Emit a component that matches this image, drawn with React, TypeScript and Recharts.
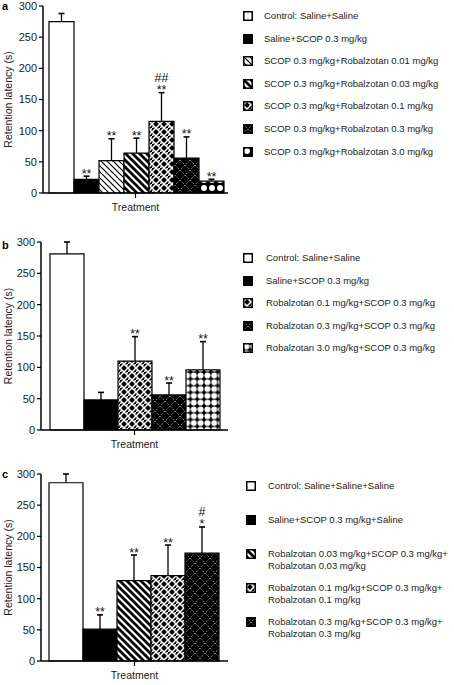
import { BarChart, Bar, XAxis, YAxis, LabelList } from 'recharts'

const FONT = '"Liberation Sans", Arial, Helvetica, sans-serif'

// panel a
const groupsA = [
  'Control: Saline+Saline',
  'Saline+SCOP 0.3 mg/kg',
  'SCOP 0.3 mg/kg+Robalzotan 0.01 mg/kg',
  'SCOP 0.3 mg/kg+Robalzotan 0.03 mg/kg',
  'SCOP 0.3 mg/kg+Robalzotan 0.1 mg/kg',
  'SCOP 0.3 mg/kg+Robalzotan 0.3 mg/kg',
  'SCOP 0.3 mg/kg+Robalzotan 3.0 mg/kg',
]
const meanA = [275, 22, 52, 64, 115, 56, 19]
const semA = [13, 5, 35, 24, 46, 34, 3]
const sigA = ['', '**', '**', '**', '##\n**', '**', '**']

// panel b
const groupsB = [
  'Control: Saline+Saline',
  'Saline+SCOP 0.3 mg/kg',
  'Robalzotan 0.1 mg/kg+SCOP 0.3 mg/kg',
  'Robalzotan 0.3 mg/kg+SCOP 0.3 mg/kg',
  'Robalzotan 3.0 mg/kg+SCOP 0.3 mg/kg',
]
const meanB = [281, 48, 110, 56, 96]
const semB = [19, 12, 39, 19, 45]
const sigB = ['', '', '**', '**', '**']

// panel c
const groupsC = [
  'Control: Saline+Saline+Saline',
  'Saline+SCOP 0.3 mg/kg+Saline',
  'Robalzotan 0.03 mg/kg+SCOP 0.3 mg/kg+\nRobalzotan 0.03 mg/kg',
  'Robalzotan 0.1 mg/kg+SCOP 0.3 mg/kg+\nRobalzotan 0.1 mg/kg',
  'Robalzotan 0.3 mg/kg+SCOP 0.3 mg/kg+\nRobalzotan 0.3 mg/kg',
]
const meanC = [286, 51, 129, 137, 173]
const semC = [14, 23, 41, 49, 42]
const sigC = ['', '**', '**', '**', '#\n*']

const yTicks = [0, 50, 100, 150, 200, 250, 300]
const xLabel = 'Treatment'

const fillsA = ['#fff', '#000', 'url(#hatchThin)', 'url(#hatchThick)', 'url(#weave)', 'url(#dotX)', 'url(#polkaA)']
const fillsB = ['#fff', '#000', 'url(#weave)', 'url(#dotX)', 'url(#polkaB)']
const fillsC = ['#fff', '#000', 'url(#hatchThick)', 'url(#weave)', 'url(#dotX)']

function buildRow(mean: number[], sem: number[], sig: string[]) {
  const row: Record<string, any> = { name: xLabel }
  mean.forEach((m, i) => {
    row[`v${i}`] = m
    row[`e${i}`] = sem[i]
    row[`n${i}`] = sig[i]
  })
  return [row]
}

// error bar drawn as the stacked segment above the mean bar
const ErrorShape = (props: any) => {
  const { x, y, width, height } = props
  if (!height || height <= 0) return <g />
  const cx = x + width / 2
  return (
    <g>
      <line x1={cx} y1={y + height} x2={cx} y2={y} stroke="#000" strokeWidth={1.3} />
      <line x1={cx - 3} x2={cx + 3} y1={y} y2={y} stroke="#000" strokeWidth={1.6} />
    </g>
  )
}

const SigLabel = (props: any) => {
  const vb = props.viewBox || {}
  const x = Number(props.x ?? vb.x)
  const y = Number(props.y ?? vb.y)
  const width = Number(props.width ?? vb.width)
  if (!props.value) return null
  const lines = String(props.value).split('\n')
  const cx = x + width / 2
  return (
    <text textAnchor="middle" fontFamily={FONT} fill="#111">
      {lines.map((l, k) => (
        <tspan key={k} x={cx} y={y + 1.5 - (lines.length - 1 - k) * 12.5} fontSize={12.5}>
          {l}
        </tspan>
      ))}
    </text>
  )
}

type PanelProps = {
  top: number
  means: number[]
  sems: number[]
  sigs: string[]
  fills: string[]
  gap: number
  yWidth: number
  height: number
}

function Panel({ top, means, sems, sigs, fills, gap, yWidth, height }: PanelProps) {
  const data = buildRow(means, sems, sigs)
  return (
    <div style={{ position: 'absolute', left: 0, top }}>
      <BarChart
        width={230}
        height={height}
        data={data}
        margin={{ top: 6, right: 2, left: 0, bottom: 0 }}
        barGap={0}
        barCategoryGap={gap}
      >
        <XAxis
          dataKey="name"
          height={30}
          tickSize={5}
          tickMargin={6}
          axisLine={{ stroke: '#000', strokeWidth: 1.5 }}
          tickLine={{ stroke: '#000', strokeWidth: 1.2 }}
          tick={{ fontSize: 10.5, fill: '#222', fontFamily: FONT }}
        />
        <YAxis
          domain={[0, 300]}
          ticks={yTicks}
          interval={0}
          width={yWidth}
          tickSize={4}
          tickMargin={2}
          axisLine={{ stroke: '#000', strokeWidth: 1.5 }}
          tickLine={{ stroke: '#000', strokeWidth: 1.2 }}
          tick={{ fontSize: 11, fill: '#222', fontFamily: FONT }}
          label={{
            value: 'Retention latency (s)',
            angle: -90,
            position: 'insideLeft',
            offset: 8,
            style: { textAnchor: 'middle', fontSize: 10.5, fill: '#222', fontFamily: FONT },
          }}
        />
        {means.map((_, i) => [
          <Bar
            key={`v${i}`}
            dataKey={`v${i}`}
            stackId={`s${i}`}
            fill={fills[i]}
            stroke="#000"
            strokeWidth={1.2}
            isAnimationActive={false}
          />,
          <Bar key={`e${i}`} dataKey={`e${i}`} stackId={`s${i}`} shape={ErrorShape} isAnimationActive={false}>
            <LabelList dataKey={`n${i}`} content={SigLabel} />
          </Bar>,
        ])}
      </BarChart>
    </div>
  )
}

type LegendProps = { labels: string[]; fills: string[]; left: number; textLeft: number; top: number; step: number }

function LegendBlock({ labels, fills, left, textLeft, top, step }: LegendProps) {
  return (
    <>
      {labels.map((lab, i) => (
        <div
          key={i}
          style={{
            position: 'absolute',
            left,
            top: top + i * step - 6,
            display: 'flex',
            alignItems: 'flex-start',
            fontFamily: FONT,
            fontSize: 9.5,
            lineHeight: '12px',
            color: '#222',
            whiteSpace: 'pre',
          }}
        >
          <svg width={10} height={10} style={{ marginTop: 1, flex: 'none' }}>
            <rect x={0.75} y={0.75} width={8.5} height={8.5} fill={fills[i]} stroke="#000" strokeWidth={1.5} />
          </svg>
          <span style={{ marginLeft: textLeft - left - 10 }}>{lab}</span>
        </div>
      ))}
    </>
  )
}

export default function App() {
  return (
    <div style={{ position: 'absolute', left: 0, top: 0, width: 454, height: 685, overflow: 'hidden', background: '#fff' }}>
      <svg width={454} height={685} style={{ position: 'absolute', left: 0, top: 0 }}>
        <defs>
          <pattern id="hatchThin" width={6} height={6} patternUnits="userSpaceOnUse">
            <rect width={6} height={6} fill="#fff" />
            <path d="M-1,-1 L7,7 M-1,5 L1,7 M5,-1 L7,1" stroke="#000" strokeWidth={1.2} />
          </pattern>
          <pattern id="hatchThick" width={7} height={7} patternUnits="userSpaceOnUse">
            <rect width={7} height={7} fill="#fff" />
            <path d="M-1,-1 L8,8 M-1,6 L1,8 M6,-1 L8,1" stroke="#000" strokeWidth={2.8} />
          </pattern>
          <pattern id="weave" width={8} height={8} patternUnits="userSpaceOnUse">
            <rect width={8} height={8} fill="#000" />
            <path
              d="M0.5,3.5 L3.5,0.5 M4.5,0.5 L7.5,3.5 M0.5,4.5 L3.5,7.5 M4.5,7.5 L7.5,4.5 M1,7 L0,8 M7,1 L8,0"
              stroke="#fff"
              strokeWidth={1.5}
              strokeLinecap="square"
            />
          </pattern>
          <pattern id="dotX" width={10} height={10} patternUnits="userSpaceOnUse">
            <rect width={10} height={10} fill="#000" />
            <path d="M0,0 L10,10 M10,0 L0,10" stroke="#fff" strokeWidth={0.8} strokeDasharray="0.8 1.6" />
          </pattern>
          <pattern id="polkaA" width={8} height={8} patternUnits="userSpaceOnUse">
            <rect width={8} height={8} fill="#000" />
            <circle cx={4} cy={4} r={3} fill="#fff" />
          </pattern>
          <pattern id="polkaB" width={6.8} height={6.8} patternUnits="userSpaceOnUse">
            <rect width={6.8} height={6.8} fill="#000" />
            <circle cx={3.4} cy={3.4} r={3.0} fill="#fff" />
          </pattern>
        </defs>
        <text x={2} y={9.5} fontFamily={FONT} fontSize={11} fontWeight="bold">a</text>
        <text x={2} y={248.5} fontFamily={FONT} fontSize={11} fontWeight="bold">b</text>
        <text x={2} y={477.5} fontFamily={FONT} fontSize={11} fontWeight="bold">c</text>
      </svg>

      <Panel top={0} means={meanA} sems={semA} sigs={sigA} fills={fillsA} gap={6} yWidth={43} height={223} />
      <Panel top={236} means={meanB} sems={semB} sigs={sigB} fills={fillsB} gap={9} yWidth={41} height={224} />
      <Panel top={468} means={meanC} sems={semC} sigs={sigC} fills={fillsC} gap={8} yWidth={41} height={223} />

      <LegendBlock labels={groupsA} fills={fillsA} left={243} textLeft={264} top={16} step={22.6} />
      <LegendBlock labels={groupsB} fills={fillsB} left={243} textLeft={266} top={258} step={22.5} />
      <LegendBlock labels={groupsC} fills={fillsC} left={246} textLeft={268} top={486} step={34} />
    </div>
  )
}
